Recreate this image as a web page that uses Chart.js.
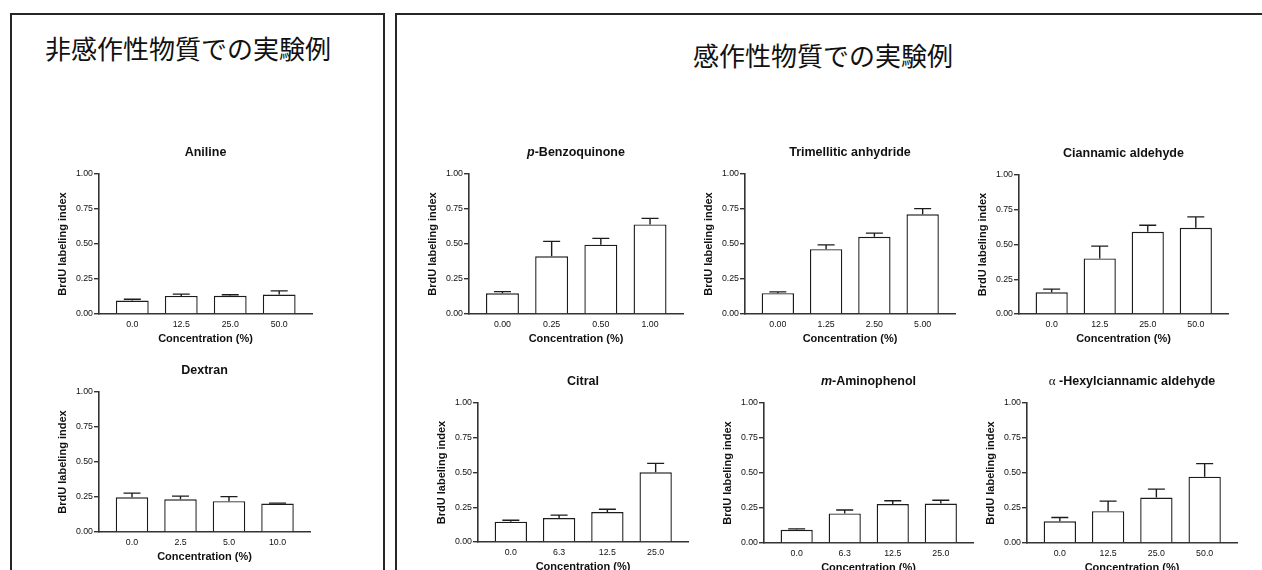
<!DOCTYPE html>
<html><head><meta charset="utf-8">
<script src="https://cdn.jsdelivr.net/npm/chart.js@4/dist/chart.umd.min.js"></script>
<style>
html,body{margin:0;padding:0;background:#fff;width:1262px;height:570px;overflow:hidden;position:relative;font-family:"Liberation Sans",Arial,sans-serif}
.box{position:absolute;border:2px solid #262626;box-sizing:border-box}
.jt{position:absolute;font-family:"Noto Sans CJK JP";font-size:26px;line-height:26px;white-space:nowrap;color:#111}
canvas{position:absolute}
</style></head><body>
<div class="box" style="left:10px;top:13px;width:375px;height:620px"></div>
<div class="box" style="left:395px;top:13px;width:900px;height:620px"></div>
<div class="jt" style="left:45px;top:35px">非感作性物質での実験例</div>
<div class="jt" style="left:693px;top:42px">感作性物質での実験例</div>
<script>
// ---- data ----
const yTicks = [0, 0.25, 0.5, 0.75, 1.0];

const anilineConc = ['0.0', '12.5', '25.0', '50.0'];
const anilineMean = [0.096, 0.129, 0.130, 0.139];
const anilineErr  = [0.009, 0.013, 0.008, 0.026];

const dextranConc = ['0.0', '2.5', '5.0', '10.0'];
const dextranMean = [0.248, 0.234, 0.220, 0.203];
const dextranErr  = [0.030, 0.022, 0.033, 0.003];

const benzoConc = ['0.00', '0.25', '0.50', '1.00'];
const benzoMean = [0.148, 0.412, 0.495, 0.640];
const benzoErr  = [0.012, 0.107, 0.045, 0.043];

const trimConc = ['0.00', '1.25', '2.50', '5.00'];
const trimMean = [0.149, 0.463, 0.551, 0.712];
const trimErr  = [0.009, 0.031, 0.027, 0.041];

const cinnConc = ['0.0', '12.5', '25.0', '50.0'];
const cinnMean = [0.156, 0.400, 0.591, 0.620];
const cinnErr  = [0.023, 0.088, 0.048, 0.079];

const citralConc = ['0.0', '6.3', '12.5', '25.0'];
const citralMean = [0.146, 0.172, 0.215, 0.501];
const citralErr  = [0.011, 0.021, 0.021, 0.065];

const aminoConc = ['0.0', '6.3', '12.5', '25.0'];
const aminoMean = [0.094, 0.211, 0.278, 0.282];
const aminoErr  = [0.007, 0.025, 0.024, 0.023];

const hexylConc = ['0.0', '12.5', '25.0', '50.0'];
const hexylMean = [0.155, 0.227, 0.325, 0.474];
const hexylErr  = [0.027, 0.072, 0.060, 0.093];

// ---- layout ----
const FONT = '"Liberation Sans", Arial, sans-serif';
Chart.defaults.font.family = FONT;
const AX = '#333';
const PAD_TOP = 34, Y_W = 43, X_H = 32, PAD_R = 4;

const panels = [
  {title: [{t: 'Aniline'}], conc: anilineConc, mean: anilineMean, err: anilineErr, ax: 99.3, yt: 174, yb: 313.7, xe: 311.7},
  {title: [{t: 'Dextran'}], conc: dextranConc, mean: dextranMean, err: dextranErr, ax: 99.3, yt: 392.3, yb: 532, xe: 310},
  {title: [{t: 'p', italic: true}, {t: '-Benzoquinone'}], conc: benzoConc, mean: benzoMean, err: benzoErr, ax: 469, yt: 174, yb: 314, xe: 683.3},
  {title: [{t: 'Trimellitic anhydride'}], conc: trimConc, mean: trimMean, err: trimErr, ax: 745, yt: 174.3, yb: 314, xe: 955},
  {title: [{t: 'Ciannamic aldehyde'}], conc: cinnConc, mean: cinnMean, err: cinnErr, ax: 1019.3, yt: 174.5, yb: 314, xe: 1228.3},
  {title: [{t: 'Citral'}], conc: citralConc, mean: citralMean, err: citralErr, ax: 478.3, yt: 402.7, yb: 542.4, xe: 688.3},
  {title: [{t: 'm', italic: true}, {t: '-Aminophenol'}], conc: aminoConc, mean: aminoMean, err: aminoErr, ax: 764, yt: 403.2, yb: 542.7, xe: 973.3},
  {title: [{t: '\u03b1', bold: false, family: '"Liberation Serif", serif', size: 13}, {t: ' -Hexylciannamic aldehyde'}], conc: hexylConc, mean: hexylMean, err: hexylErr, ax: 1027.3, yt: 403.3, yb: 542.7, xe: 1236.7}
];

function titlePlugin(parts) {
  return {
    id: 'ptitle',
    afterDraw(chart) {
      const {ctx, chartArea} = chart;
      const fonts = parts.map(p => `${p.italic ? 'italic ' : ''}${p.bold === false ? '' : 'bold '}${p.size || 12.5}px ${p.family || FONT}`);
      const widths = parts.map((p, i) => { ctx.font = fonts[i]; return ctx.measureText(p.t).width; });
      const total = widths.reduce((a, b) => a + b, 0);
      let x = (chartArea.left + chartArea.right) / 2 - total / 2;
      const y = chartArea.top - 21.5;
      ctx.save();
      ctx.textBaseline = 'middle';
      ctx.textAlign = 'left';
      ctx.fillStyle = '#111';
      parts.forEach((p, i) => { ctx.font = fonts[i]; ctx.fillText(p.t, x, y); x += widths[i]; });
      ctx.restore();
    }
  };
}

function errPlugin(errs) {
  return {
    id: 'errbars',
    afterDatasetsDraw(chart) {
      const {ctx} = chart;
      const xs = chart.scales.x, ys = chart.scales.y;
      const data = chart.data.datasets[0].data;
      ctx.save();
      ctx.strokeStyle = '#1c1c1c';
      ctx.lineWidth = 1.4;
      data.forEach((p, i) => {
        const x = xs.getPixelForValue(p.x);
        const y0 = ys.getPixelForValue(p.y);
        const y1 = ys.getPixelForValue(p.y + errs[i]);
        ctx.beginPath();
        ctx.moveTo(x, y0); ctx.lineTo(x, y1);
        ctx.moveTo(x - 8.5, y1); ctx.lineTo(x + 8.5, y1);
        ctx.stroke();
      });
      ctx.restore();
    }
  };
}

panels.forEach(p => {
  const left = Math.round(p.ax) - Y_W;
  const top = Math.round(p.yt) - PAD_TOP;
  const width = Math.round(p.xe) - Math.round(p.ax) + Y_W + PAD_R;
  const height = PAD_TOP + Math.round(p.yb) - Math.round(p.yt) + X_H;
  const cv = document.createElement('canvas');
  cv.width = width; cv.height = height;
  cv.style.left = left + 'px'; cv.style.top = top + 'px';
  document.body.appendChild(cv);
  const labels = p.conc;
  new Chart(cv, {
    type: 'bar',
    data: {
      datasets: [{
        data: p.mean.map((v, i) => ({x: i, y: v})),
        backgroundColor: '#ffffff',
        borderColor: '#1c1c1c',
        borderWidth: 1.4,
        borderSkipped: 'start',
        barPercentage: 0.67,
        categoryPercentage: 1
      }]
    },
    options: {
      responsive: false,
      animation: false,
      devicePixelRatio: 1,
      layout: {padding: {top: PAD_TOP, right: PAD_R, left: 0, bottom: 0}},
      plugins: {legend: {display: false}, tooltip: {enabled: false}, title: {display: false}},
      scales: {
        x: {
          type: 'linear', min: -0.68, max: 3.67, offset: false,
          afterBuildTicks: s => { s.ticks = labels.map((_, i) => ({value: i})); },
          afterFit: s => { s.height = X_H; },
          grid: {display: false, drawTicks: false, tickLength: 0},
          border: {display: true, color: AX, width: 1.6},
          ticks: {padding: 5, color: '#111', font: {size: 8.8}, maxRotation: 0, autoSkip: false, callback: v => labels[v]},
          title: {display: true, text: 'Concentration (%)', color: '#111', font: {size: 11, weight: 'bold'}, padding: 0}
        },
        y: {
          type: 'linear', min: 0, max: 1,
          afterBuildTicks: s => { s.ticks = yTicks.map(v => ({value: v})); },
          afterFit: s => { s.width = Y_W; },
          grid: {drawOnChartArea: false, drawTicks: true, tickLength: 5, color: AX, lineWidth: 1.4},
          border: {display: true, color: AX, width: 1.6},
          ticks: {padding: 1, color: '#111', font: {size: 8.8}, callback: v => v.toFixed(2)},
          title: {display: true, text: 'BrdU labeling index', color: '#111', font: {size: 11, weight: 'bold'}, padding: 0}
        }
      }
    },
    plugins: [errPlugin(p.err), titlePlugin(p.title)]
  });
});
</script>
</body></html>
